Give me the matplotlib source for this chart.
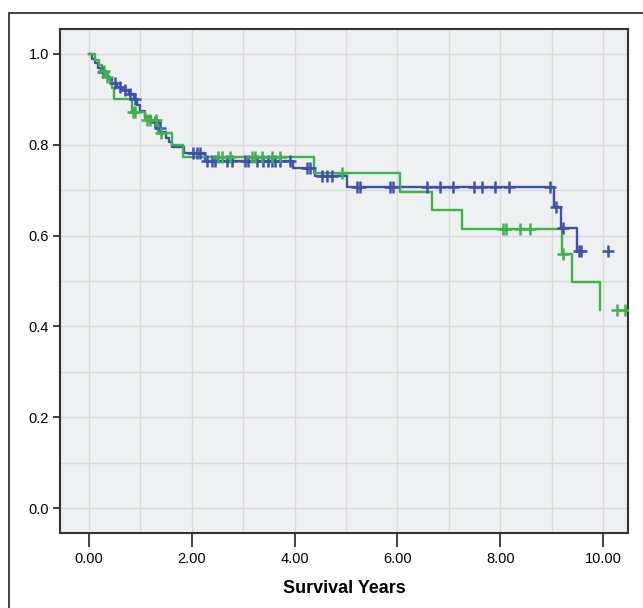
import matplotlib
matplotlib.use("Agg")
import matplotlib.pyplot as plt
from matplotlib.patches import Rectangle
import numpy as np

plt.rcParams['font.family'] = ['Liberation Sans', 'DejaVu Sans']

# Kaplan-Meier steps (time in years, survival after the event)
blue_times = [0.05, 0.12, 0.18, 0.24, 0.30, 0.38, 0.45, 0.55, 0.65, 0.78, 0.88, 0.93,
              1.00, 1.08, 1.20, 1.30, 1.40, 1.50, 1.55, 1.62, 1.85, 2.26, 3.97, 4.40,
              5.02, 9.05, 9.18, 9.50]
blue_surv = [0.990, 0.980, 0.970, 0.960, 0.952, 0.944, 0.936, 0.928, 0.921, 0.912, 0.900, 0.888,
             0.875, 0.862, 0.850, 0.838, 0.828, 0.815, 0.806, 0.795, 0.782, 0.765, 0.749, 0.731,
             0.707, 0.664, 0.617, 0.566]
blue_end = 9.58
blue_censor = [0.27, 0.51, 0.60, 0.70, 0.80, 0.90, 1.28, 1.38, 2.03, 2.10, 2.16, 2.30, 2.39,
               2.45, 2.68, 2.78, 3.04, 3.09, 3.27, 3.39, 3.48, 3.56, 3.62, 3.72, 3.91, 4.24,
               4.30, 4.53, 4.63, 4.73, 5.21, 5.27, 5.86, 5.91, 6.58, 6.83, 7.08, 7.49, 7.65,
               7.90, 8.17, 8.97, 9.09, 9.23, 9.54, 9.57, 10.10]

green_times = [0.12, 0.20, 0.26, 0.33, 0.40, 0.45, 0.48, 0.84, 1.09, 1.34, 1.62, 1.83,
               4.38, 6.05, 6.67, 7.26, 9.20, 9.40, 9.95]
green_surv = [0.987, 0.975, 0.962, 0.950, 0.938, 0.925, 0.900, 0.872, 0.855, 0.826, 0.800, 0.773,
              0.738, 0.696, 0.656, 0.614, 0.559, 0.498, 0.436]
green_end = 9.95
green_censor = [0.30, 0.36, 0.85, 0.90, 1.12, 1.18, 1.30, 1.40, 2.51, 2.59, 2.75, 3.17, 3.23,
                3.37, 3.56, 3.72, 4.92, 8.05, 8.11, 8.39, 8.58, 9.23, 10.27, 10.43]

blue = '#3f51ad'
green = '#3cb449'


def km_path(times, surv, end):
    t = np.concatenate([[0.0], times, [end]])
    s = np.concatenate([[1.0], surv, [surv[-1]]])
    return t, s


def censor_levels(times, surv, ctimes):
    out = []
    for c in ctimes:
        idx = np.searchsorted(times, c, side='right') - 1
        out.append(1.0 if idx < 0 else surv[idx])
    return out


fig = plt.figure(figsize=(6.43, 6.08), dpi=100)
fig.patches.append(Rectangle((9 / 643, -0.05), 1.0, 1 - 13 / 608 + 0.05,
                             transform=fig.transFigure, fill=False,
                             edgecolor='#222222', linewidth=1.2))
ax = fig.add_axes([60 / 643, 1 - 533 / 608, 568 / 643, 504 / 608])
ax.set_facecolor('#eff0f2')

for times, surv, end, cens, col in [(blue_times, blue_surv, blue_end, blue_censor, blue),
                                    (green_times, green_surv, green_end, green_censor, green)]:
    t, s = km_path(times, surv, end)
    ax.step(t, s, where='post', color=col, linewidth=1.7, zorder=3)
    ax.plot(cens, censor_levels(times, surv, cens), linestyle='none', marker='+',
            markersize=9, markeredgewidth=1.8, color=col, zorder=4)

ax.set_xlim(-0.564, 10.486)
ax.set_ylim(-0.055, 1.055)
ax.set_xticks(np.arange(0, 11, 2))
ax.set_xticklabels(['%.2f' % v for v in np.arange(0, 11, 2)])
ax.set_yticks(np.arange(0, 1.01, 0.2))
ax.set_yticklabels(['%.1f' % v for v in np.arange(0, 1.01, 0.2)])
ax.set_xticks(np.arange(0, 11, 1), minor=True)
ax.set_yticks(np.arange(0, 1.01, 0.1), minor=True)
ax.grid(True, which='both', color='#d9d9d9', linewidth=1.0)
ax.set_axisbelow(True)
ax.tick_params(which='minor', length=0)
ax.tick_params(axis='x', length=10, width=1.3, color='#333333', labelsize=10.5, pad=4)
ax.tick_params(axis='y', length=5, width=1.3, color='#333333', labelsize=10.5, pad=3)
for sp in ax.spines.values():
    sp.set_color('#333333')
    sp.set_linewidth(1.5)

ax.set_xlabel('Survival Years', fontsize=13, fontweight='bold', labelpad=10)

fig.savefig('out.png', dpi=100)
